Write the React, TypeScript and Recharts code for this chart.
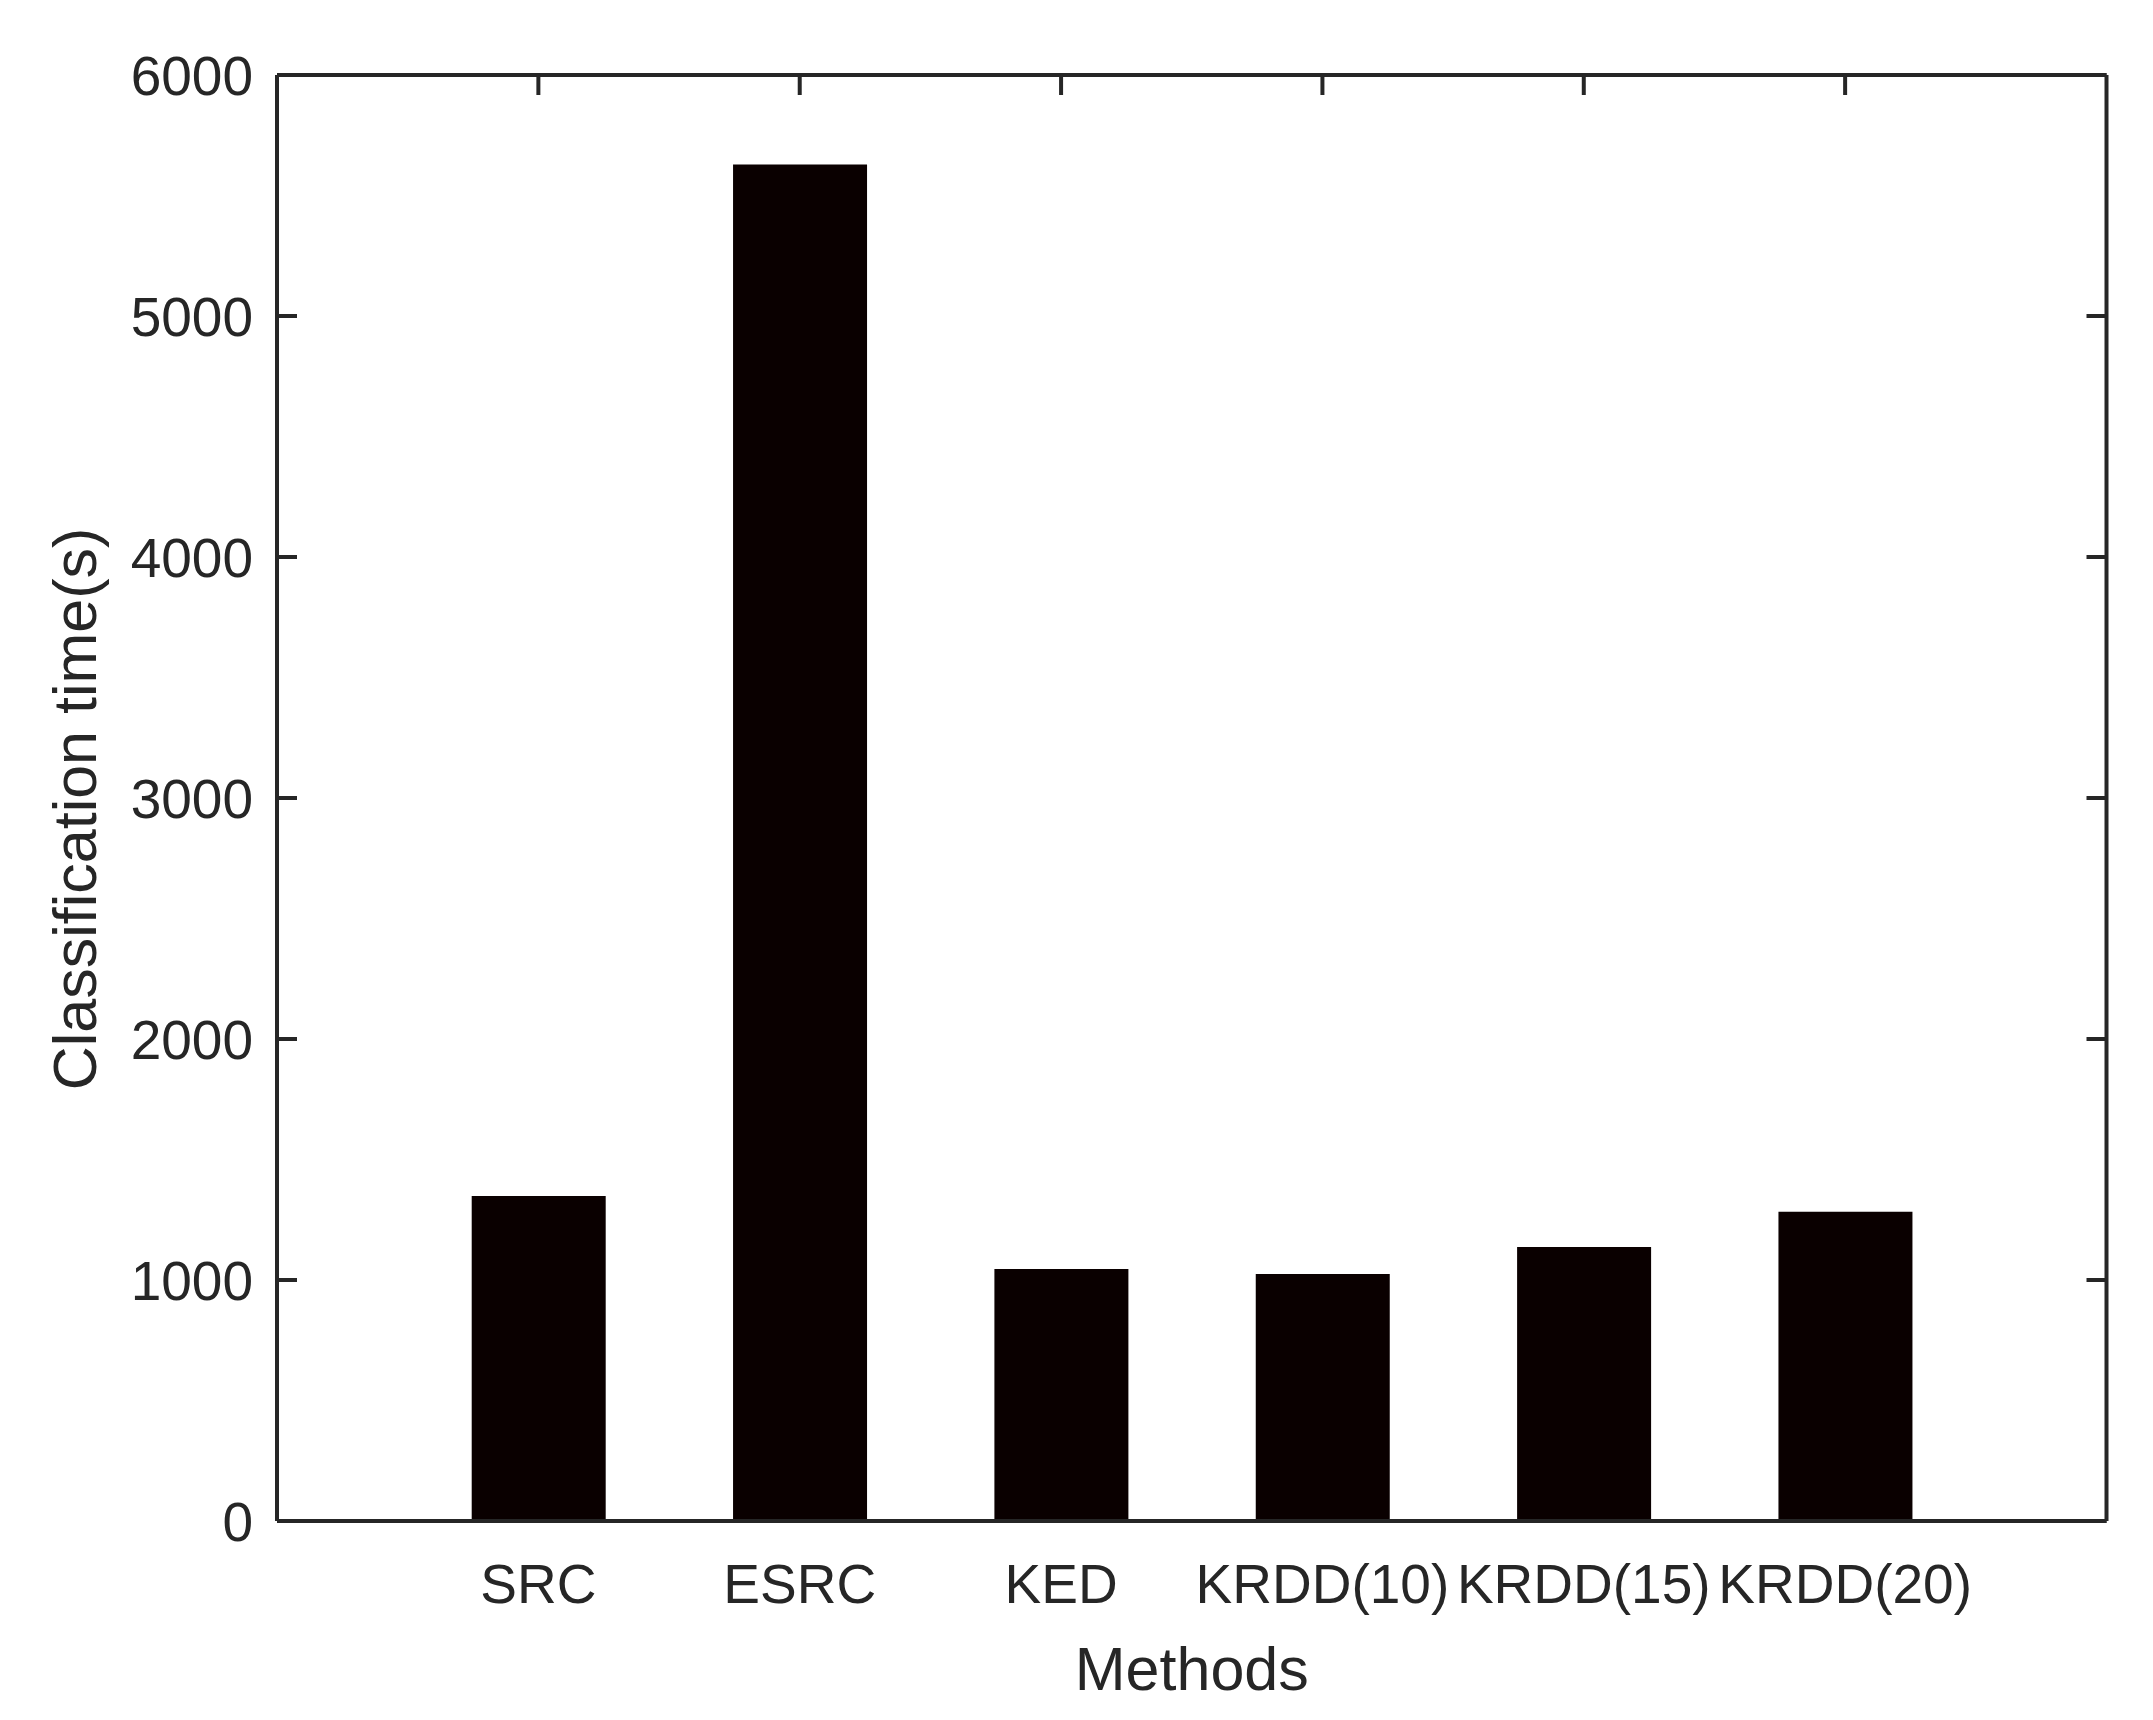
import React from "react"
import { ComposedChart, Bar, Line, XAxis, YAxis, Label } from "recharts"

const methods = ["SRC", "ESRC", "KED", "KRDD(10)", "KRDD(15)", "KRDD(20)"]
const classificationTime = [1349, 5629, 1046, 1025, 1137, 1283]
const yTicks = [0, 1000, 2000, 3000, 4000, 5000, 6000]

const data = methods.map((method, i) => ({ method, time: classificationTime[i] }))

const ink = "#262626"
const font = "'Liberation Sans', Arial, Helvetica, sans-serif"

// blank tick renderer so the mirror axes keep their tick marks but show no text
const NoTick = () => null

function YTitle(props: any) {
  const { viewBox } = props
  const x = 96
  const y = viewBox.y + viewBox.height / 2 + 11
  return (
    <text
      x={x}
      y={y}
      transform={`rotate(-90 ${x} ${y})`}
      textAnchor="middle"
      fill={ink}
      fontSize={61}
      fontFamily={font}
    >
      Classification time(s)
    </text>
  )
}

export default function App() {
  const axisLine = { stroke: ink, strokeWidth: 4 }
  const tickLine = { stroke: ink, strokeWidth: 4 }
  const pad = { left: 130.7, right: 130.7 }
  return (
    <div style={{ position: "absolute", left: 0, top: 0, background: "#fff" }}>
      <ComposedChart
        width={2153}
        height={1720}
        data={data}
        margin={{ top: 65, right: 36.5, bottom: 0, left: 77 }}
        barSize={134}
      >
        <XAxis
          dataKey="method"
          height={199}
          padding={pad}
          interval={0}
          axisLine={axisLine}
          tickLine={false}
          tickSize={-20}
          tickMargin={63}
          tick={{ fill: ink, fontSize: 55, fontFamily: font }}
        >
          <Label
            value="Methods"
            position="insideBottom"
            offset={30}
            fill={ink}
            fontSize={61}
            fontFamily={font}
          />
        </XAxis>
        <XAxis
          xAxisId="top"
          orientation="top"
          dataKey="method"
          height={10}
          padding={pad}
          interval={0}
          axisLine={axisLine}
          tickLine={tickLine}
          tickSize={-20}
          tick={<NoTick />}
        />
        <YAxis
          type="number"
          domain={[0, 6000]}
          ticks={yTicks}
          width={200}
          interval={0}
          axisLine={axisLine}
          tickLine={tickLine}
          tickSize={-20}
          tickMargin={44}
          tick={{ fill: ink, fontSize: 55, fontFamily: font }}
        >
          <Label content={<YTitle />} />
        </YAxis>
        <YAxis
          yAxisId="right"
          orientation="right"
          type="number"
          domain={[0, 6000]}
          ticks={yTicks}
          width={10}
          interval={0}
          axisLine={axisLine}
          tickLine={tickLine}
          tickSize={-20}
          tick={<NoTick />}
        />
        <Bar dataKey="time" fill="#0a0000" isAnimationActive={false} />
        {/* invisible series so the right-hand mirror axis gets a scale */}
        <Line
          yAxisId="right"
          xAxisId="top"
          dataKey="time"
          stroke="none"
          dot={false}
          activeDot={false}
          legendType="none"
          isAnimationActive={false}
        />
      </ComposedChart>
    </div>
  )
}
